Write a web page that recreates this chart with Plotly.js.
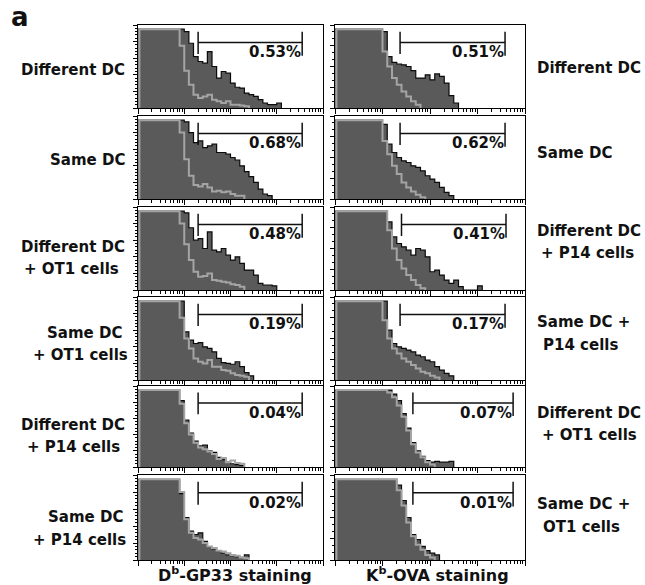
<!DOCTYPE html>
<html><head><meta charset="utf-8">
<script src="https://cdn.plot.ly/plotly-3.0.1.min.js"></script>
<style>html,body{margin:0;padding:0;background:#fff}#chart{width:645px;height:585px}</style>
</head><body><div id="chart"></div>
<script>
// log10 fluorescence bin positions (decades)
const BIN_X = [0.0,0.1,0.2,0.3,0.4,0.5,0.6,0.7,0.8,0.9,1.0,1.1,1.2,1.3,1.4,1.5,1.6,1.7,1.8,1.9,2.0,2.1,2.2,2.3,2.4,2.5,2.6,2.7,2.8,2.9,3.0,3.1,3.2,3.3,3.4,3.5,3.6,3.7,3.8,3.9,4.0];

const LEFT_LABELS  = ["Different DC","Same DC","Different DC<br>+ OT1 cells","Same DC<br>+ OT1 cells","Different DC<br>+ P14 cells","Same DC<br>+ P14 cells"];
const RIGHT_LABELS = ["Different DC","Same DC","Different DC<br>+ P14 cells","Same DC +<br>P14 cells","Different DC<br>+ OT1 cells","Same DC +<br>OT1 cells"];
const LEFT_PCT  = ["0.53%","0.68%","0.48%","0.19%","0.04%","0.02%"];
const RIGHT_PCT = ["0.51%","0.62%","0.41%","0.17%","0.07%","0.01%"];
const X_TITLES = ["D<sup>b</sup>-GP33 staining","K<sup>b</sup>-OVA staining"];

// gate limits (decades)
const LEFT_GATE_LO  = [1.30,1.30,1.30,1.30,1.30,1.30];
const LEFT_GATE_HI  = [3.55,3.55,3.55,3.55,3.55,3.55];
const RIGHT_GATE_LO = [1.37,1.37,1.40,1.37,1.64,1.64];
const RIGHT_GATE_HI = [3.58,3.58,3.60,3.58,3.75,3.75];

// Db-GP33 column: stained sample (dark) and control (grey line), % of max
const L1_DARK = [95,95,95,95,95,95,95,95,95,95,92,78,62,56,54,68,50,36,44,42,30,25,24,18,16,14,10,6,4,4,6,0];
const L1_GREY = [95,95,95,95,95,95,95,95,95,75,45,28,16,12,14,16,10,8,6,8,4,4,3,2,0];
const L2_DARK = [95,95,95,95,95,95,95,95,95,95,93,80,68,70,62,64,66,56,56,54,50,47,40,33,27,20,12,6,4,0];
const L2_GREY = [95,95,95,95,95,95,95,95,95,80,48,28,17,15,18,14,9,10,8,9,6,4,4,0];
const L3_DARK = [95,95,95,95,95,95,95,95,95,95,93,75,60,62,50,70,48,46,50,42,36,40,32,24,24,18,8,6,6,5,0];
const L3_GREY = [95,95,95,95,95,95,95,95,95,80,55,36,22,16,17,20,12,11,10,9,7,6,4,0];
const L4_DARK = [95,95,95,95,95,95,95,95,95,95,58,48,44,45,40,38,34,26,21,20,19,22,16,9,5,0];
const L4_GREY = [95,95,95,95,95,95,95,95,95,75,50,38,26,22,20,24,16,16,12,11,8,6,5,4,0];
const L5_DARK = [95,95,95,95,95,95,95,95,95,82,58,42,32,26,27,20,18,12,9,6,4,3,2,0];
const L5_GREY = [95,95,95,95,95,95,95,95,95,78,54,40,30,24,22,19,16,10,11,6,8,5,4,0];
const L6_DARK = [95,95,95,95,95,95,95,95,95,78,50,34,30,32,22,15,13,10,8,6,5,4,3,6,0];
const L6_GREY = [95,95,95,95,95,95,95,95,95,80,48,32,26,24,20,16,14,11,10,8,6,5,3,2,0];

// Kb-OVA column
const R1_DARK = [95,95,95,95,95,95,95,95,95,95,92,62,55,53,52,50,45,36,36,40,34,41,38,30,15,6,0];
const R1_GREY = [95,95,95,95,95,95,95,95,95,95,68,50,36,28,20,14,8,4,0];
const R2_DARK = [95,95,95,95,95,95,95,95,95,95,90,66,56,50,46,44,40,38,34,28,24,20,14,8,4,0];
const R2_GREY = [95,95,95,95,95,95,95,95,95,95,70,54,40,30,20,14,9,5,2,0];
const R3_DARK = [95,95,95,95,95,95,95,95,95,95,95,82,64,56,52,48,42,50,48,40,22,24,18,12,8,12,4,0,0,0,5,0];
const R3_GREY = [95,95,95,95,95,95,95,95,95,95,95,72,50,36,26,18,12,6,2,0];
const R4_DARK = [95,95,95,95,95,95,95,95,95,95,95,60,44,40,38,36,34,30,28,24,22,16,12,8,5,0];
const R4_GREY = [95,95,95,95,95,95,95,95,95,95,72,50,38,32,26,22,18,14,10,8,5,3,0];
const R5_DARK = [95,95,95,95,95,95,95,95,95,95,95,95,90,82,66,48,30,20,13,8,6,7,6,6,7,0];
const R5_GREY = [95,95,95,95,95,95,95,95,95,95,95,92,86,76,62,45,28,18,12,6,3,0];
const R6_DARK = [95,95,95,95,95,95,95,95,95,95,95,95,95,88,70,50,30,24,16,11,8,6,0];
const R6_GREY = [95,95,95,95,95,95,95,95,95,95,95,95,95,82,64,44,28,18,12,6,3,0];

const DARK = [L1_DARK,L2_DARK,L3_DARK,L4_DARK,L5_DARK,L6_DARK,R1_DARK,R2_DARK,R3_DARK,R4_DARK,R5_DARK,R6_DARK];
const GREY = [L1_GREY,L2_GREY,L3_GREY,L4_GREY,L5_GREY,L6_GREY,R1_GREY,R2_GREY,R3_GREY,R4_GREY,R5_GREY,R6_GREY];
const PCT = LEFT_PCT.concat(RIGHT_PCT);
const GLO = LEFT_GATE_LO.concat(RIGHT_GATE_LO);
const GHI = LEFT_GATE_HI.concat(RIGHT_GATE_HI);

// ---- layout geometry (pixels) ----
const W = 645, H = 585;
const COLS = [[138,323],[335,525]];
const ROWS = [[25,108],[116,199],[207,290],[297,380],[386,467],[475,560]];
const px = v => v / W, py = v => 1 - v / H;
const FONT = "DejaVu Sans, Arial, sans-serif";

// log-axis tick positions
const majorT = [0,1,2,3,4];
const minorT = [];
for (let d = 0; d < 4; d++) for (let k = 2; k <= 9; k++) minorT.push(d + Math.log10(k));

const data = [], shapes = [], annotations = [];
const layout = {width: W, height: H, margin: {l:0,r:0,t:0,b:0}, showlegend: false,
  paper_bgcolor: '#fff', plot_bgcolor: '#fff', font: {family: FONT, color: '#111'}};

for (let k = 0; k < 12; k++) {
  const col = k < 6 ? 0 : 1, row = k % 6, n = k + 1;
  const xa = 'xaxis' + (n === 1 ? '' : n), ya = 'yaxis' + (n === 1 ? '' : n);
  const xr = 'x' + (n === 1 ? '' : n), yr = 'y' + (n === 1 ? '' : n);
  layout[xa] = {domain: [px(COLS[col][0]), px(COLS[col][1])], range: [0, 4], anchor: yr,
    showline: true, mirror: true, linecolor: '#000', linewidth: 1, showgrid: false, zeroline: false,
    tickmode: 'array', tickvals: majorT, showticklabels: false, ticks: 'outside', ticklen: 5, tickcolor: '#000', tickwidth: 1,
    minor: {tickvals: minorT, ticks: 'outside', ticklen: 3, tickcolor: '#000', tickwidth: 1}};
  layout[ya] = {domain: [py(ROWS[row][1]), py(ROWS[row][0])], range: [0, 100], anchor: xr,
    showline: true, mirror: true, linecolor: '#000', linewidth: 1, showgrid: false, zeroline: false,
    showticklabels: false, ticks: 'outside', ticklen: 4, tickcolor: '#000', tickwidth: 1,
    tickmode: 'linear', tick0: 0, dtick: col === 0 ? 20 : 25,
    minor: {ticks: 'outside', ticklen: 2.5, dtick: col === 0 ? 4 : 8.33, tickcolor: '#000', tickwidth: 1}};

  const d = DARK[k], g = GREY[k];
  data.push({type: 'scatter', mode: 'lines', x: BIN_X.slice(0, d.length), y: d, xaxis: xr, yaxis: yr,
    line: {shape: 'hv', color: '#0b0b0b', width: 1.2}, fill: 'tozeroy', fillcolor: '#5a5a5a', hoverinfo: 'skip'});
  data.push({type: 'scatter', mode: 'lines', x: [0.03, 0.03].concat(BIN_X.slice(1, g.length)), y: [0].concat(g),
    xaxis: xr, yaxis: yr, line: {shape: 'hv', color: '#a4a4a4', width: 2}, hoverinfo: 'skip'});

  // gate marker
  const ln = {color: '#111', width: 1.5};
  shapes.push({type: 'line', xref: xr, yref: yr, x0: GLO[k], x1: GHI[k], y0: 79, y1: 79, line: ln});
  shapes.push({type: 'line', xref: xr, yref: yr, x0: GLO[k], x1: GLO[k], y0: 92, y1: 65, line: ln});
  shapes.push({type: 'line', xref: xr, yref: yr, x0: GHI[k], x1: GHI[k], y0: 92, y1: 63, line: ln});
  annotations.push({xref: xr, yref: yr, x: GHI[k], y: 67, xanchor: 'right', yanchor: 'middle', showarrow: false,
    text: PCT[k], xshift: 1, font: {family: FONT, size: 15, weight: 'bold', color: '#111'}});
}

// row labels (one annotation per text line)
const L_POS = [[[127,70]],[[127,160]],[[127,247],[121,269]],[[124,333],[130,355]],[[127,425],[122,447]],[[125,517],[128,540]]];
const R_POS = [[[535,68]],[[535,153]],[[535,231],[539,253]],[[535,322],[541,345]],[[535,413],[540,435]],[[535,504],[541,527]]];
for (let r = 0; r < 6; r++) {
  LEFT_LABELS[r].split('<br>').forEach((t, i) => annotations.push({xref: 'paper', yref: 'paper',
    x: px(L_POS[r][i][0]), y: py(L_POS[r][i][1]), xanchor: 'right', yanchor: 'middle', showarrow: false, text: t,
    font: {family: FONT, size: 15, weight: 'bold', color: '#111'}}));
  RIGHT_LABELS[r].split('<br>').forEach((t, i) => annotations.push({xref: 'paper', yref: 'paper',
    x: px(R_POS[r][i][0]), y: py(R_POS[r][i][1]), xanchor: 'left', yanchor: 'middle', showarrow: false, text: t,
    font: {family: FONT, size: 15, weight: 'bold', color: '#111'}}));
}
// axis titles
annotations.push({xref: 'paper', yref: 'paper', x: px(235), y: py(574), xanchor: 'center', yanchor: 'middle', showarrow: false,
  text: X_TITLES[0], font: {family: FONT, size: 16, weight: 'bold', color: '#111'}});
annotations.push({xref: 'paper', yref: 'paper', x: px(437), y: py(574), xanchor: 'center', yanchor: 'middle', showarrow: false,
  text: X_TITLES[1], font: {family: FONT, size: 16, weight: 'bold', color: '#111'}});
// panel letter
annotations.push({xref: 'paper', yref: 'paper', x: px(9), y: py(17), xanchor: 'left', yanchor: 'middle', showarrow: false,
  text: 'a', font: {family: FONT, size: 26, weight: 'bold', color: '#111'}});

layout.shapes = shapes;
layout.annotations = annotations;
Plotly.newPlot('chart', data, layout, {staticPlot: true, displayModeBar: false});
</script></body></html>
